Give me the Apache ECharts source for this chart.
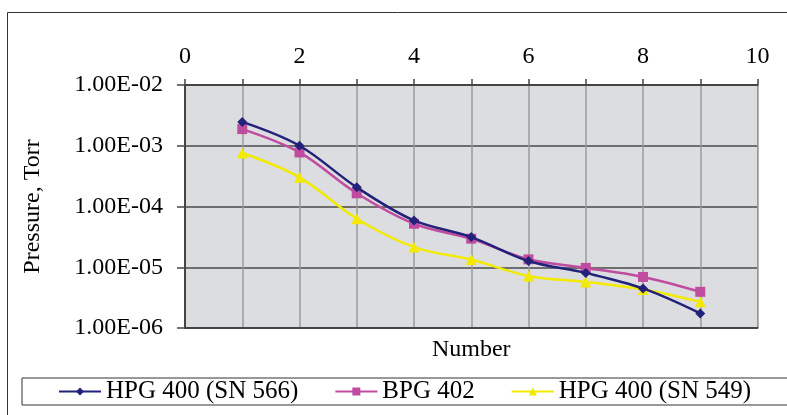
<!DOCTYPE html>
<html>
<head>
<meta charset="utf-8">
<script src="https://cdn.jsdelivr.net/npm/echarts@6/dist/echarts.min.js"></script>
<style>
html,body{margin:0;padding:0;background:#fff;}
#chart{width:787px;height:415px;}
</style>
</head>
<body>
<div id="chart"></div>
<script>
const numbers = [1, 2, 3, 4, 5, 6, 7, 8, 9];
const hpg566 = [2.47e-3, 1.0e-3, 2.07e-4, 5.89e-5, 3.14e-5, 1.27e-5, 8.07e-6, 4.48e-6, 1.74e-6];
const bpg402 = [1.88e-3, 7.76e-4, 1.65e-4, 5.2e-5, 2.95e-5, 1.35e-5, 9.75e-6, 6.93e-6, 3.94e-6];
const hpg549 = [7.59e-4, 3.02e-4, 6.28e-5, 2.15e-5, 1.34e-5, 7.2e-6, 5.74e-6, 4.3e-6, 2.7e-6];
const seriesNames = ['HPG 400 (SN 566)', 'BPG 402', 'HPG 400 (SN 549)'];
const xTicks = [0, 2, 4, 6, 8, 10];

const FONT = 'Liberation Serif';
function pairs(vals) { return numbers.map((n, i) => [n, vals[i]]); }
function sci(v) {
  const e = Math.round(Math.log10(v));
  const m = v / Math.pow(10, e);
  return m.toFixed(2) + 'E' + (e < 0 ? '-' : '+') + String(Math.abs(e)).padStart(2, '0');
}

const chart = echarts.init(document.getElementById('chart'), null, {renderer: 'canvas'});
const option = {
  animation: false,
  backgroundColor: '#ffffff',
  graphic: [{
    type: 'rect', z: -10, silent: true,
    shape: {x: 7.5, y: 12.5, width: 800, height: 420},
    style: {fill: '#ffffff', stroke: '#333333', lineWidth: 1}
  }],
  grid: {
    left: 185, right: 29.5, top: 85, bottom: 87,
    show: true, backgroundColor: '#dcdde0', borderColor: '#8a8a8a', borderWidth: 1
  },
  legend: {
    left: 22, top: 378, width: 740,
    padding: [1, 60, 1, 36],
    itemGap: 36,
    itemWidth: 42, itemHeight: 10,
    borderColor: '#333333', borderWidth: 1, backgroundColor: '#ffffff',
    textStyle: {fontFamily: FONT, fontSize: 25, color: '#000'},
    data: seriesNames
  },
  xAxis: [{
    type: 'value', position: 'top', min: 0, max: 10, interval: 1,
    axisLine: {show: true, lineStyle: {color: '#444', width: 2}},
    axisTick: {show: true, length: 6, lineStyle: {color: '#444', width: 1.5}},
    axisLabel: {
      margin: 16, fontFamily: FONT, fontSize: 24, color: '#000',
      formatter: v => xTicks.indexOf(v) >= 0 ? String(v) : ''
    },
    splitLine: {show: true, lineStyle: {color: '#9a9a9a', width: 1.5}}
  }, {
    type: 'value', position: 'bottom', min: 0, max: 10, interval: 1,
    name: 'Number', nameLocation: 'middle', nameGap: 10,
    nameTextStyle: {fontFamily: FONT, fontSize: 24, color: '#000'},
    axisLine: {show: true, lineStyle: {color: '#444', width: 2}},
    axisTick: {show: false}, axisLabel: {show: false}, splitLine: {show: false}
  }],
  yAxis: {
    type: 'log', logBase: 10, min: 1e-6, max: 1e-2,
    name: 'Pressure, Torr', nameLocation: 'middle', nameGap: 140,
    nameTextStyle: {fontFamily: FONT, fontSize: 24, color: '#000'},
    axisLine: {show: true, lineStyle: {color: '#444', width: 2}},
    axisTick: {show: true, length: 8, lineStyle: {color: '#444', width: 1.5}},
    axisLabel: {margin: 22, fontFamily: FONT, fontSize: 24, color: '#000', formatter: sci},
    splitLine: {show: true, lineStyle: {color: '#6e6e6e', width: 2}}
  },
  series: [{
    name: seriesNames[0], type: 'line', data: pairs(hpg566), smooth: 0.35,
    symbol: 'diamond', symbolSize: 10, z: 4,
    lineStyle: {color: '#22227a', width: 2.5},
    itemStyle: {color: '#22227a'}
  }, {
    name: seriesNames[1], type: 'line', data: pairs(bpg402), smooth: 0.35,
    symbol: 'rect', symbolSize: 10, z: 3,
    lineStyle: {color: '#c04ca0', width: 2.5},
    itemStyle: {color: '#c04ca0'}
  }, {
    name: seriesNames[2], type: 'line', data: pairs(hpg549), smooth: 0.35,
    symbol: 'triangle', symbolSize: 11, z: 2,
    lineStyle: {color: '#f2ea00', width: 2.5},
    itemStyle: {color: '#f2ea00'}
  }]
};
chart.setOption(option);
</script>
</body>
</html>
